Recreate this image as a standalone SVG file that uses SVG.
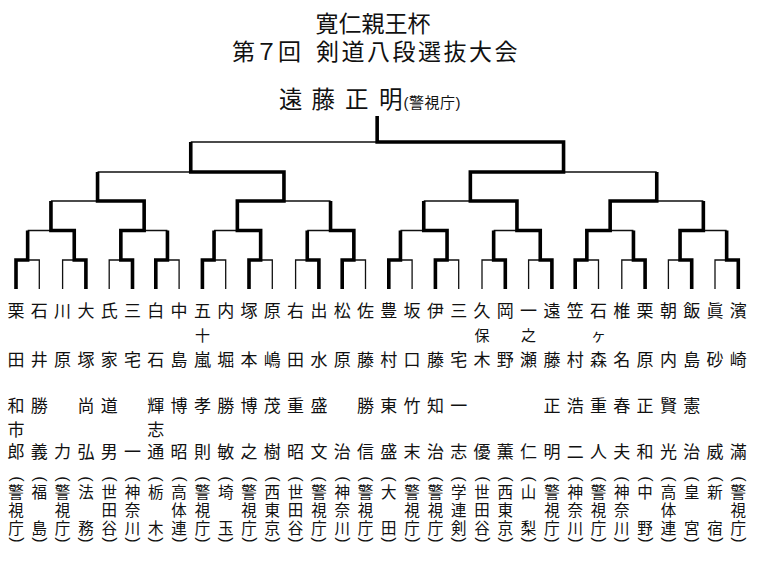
<svg xmlns="http://www.w3.org/2000/svg" width="760" height="562" viewBox="0 0 760 562">
<style>
text{font-family:"Liberation Sans","Noto Sans CJK JP","Noto Sans CJK SC",sans-serif;fill:#111}
.t{font-size:23px}
.c{font-size:23.5px;text-anchor:middle}
.cs{font-size:15px;letter-spacing:0.5px}
.s{font-size:17px;text-anchor:middle}
.m{font-size:15px;text-anchor:middle}
.f{font-size:15.5px;text-anchor:middle}
.pr{font-family:"Liberation Sans",sans-serif;font-size:16px;text-anchor:middle;dominant-baseline:central}
.thin{fill:none;stroke:#111;stroke-width:1.3}
.thick{fill:none;stroke:#000;stroke-width:3.6;stroke-linejoin:miter}
</style>
<rect width="760" height="562" fill="#fff"/>
<g id="title">
<text class="t" x="315.5" y="32">寛仁親王杯</text>
<text class="t" x="232" y="59.5">第７回</text>
<text class="t" x="316" y="59.5" letter-spacing="2.5">剣道八段選抜大会</text>
</g>
<g id="champion">
<text class="c" x="290.8" y="108">遠</text>
<text class="c" x="323.3" y="108">藤</text>
<text class="c" x="356.7" y="108">正</text>
<text class="c" x="390.8" y="108">明</text>
<text class="cs" x="403.5" y="107.5">(警視庁)</text>
</g>
<g id="connectors">
<path class="thin" d="M16,289V260H39.3V289M62.6,289V260H85.9V289M109.2,289V260H132.5V289M155.8,289V260H179.1V289M202.4,289V260H225.7V289M249,289V260H272.3V289M295.6,289V260H318.9V289M342.2,289V260H365.5V289M388.8,289V260H412.1V289M435.4,289V260H458.7V289M482,289V260H505.3V289M528.6,289V260H551.9V289M575.2,289V260H598.5V289M621.8,289V260H645.1V289M668.4,289V260H691.7V289M715,289V260H738.3V289
M27.65,230.5H74.25M120.85,230.5H167.45M214.05,230.5H260.65M307.25,230.5H353.85M400.45,230.5H447.05M493.65,230.5H540.25M586.85,230.5H633.45M680.05,230.5H726.65
M50.95,230.5V201M144.15,230.5V201M237.35,230.5V201M330.55,230.5V201M423.75,230.5V201M516.95,230.5V201M610.15,230.5V201M703.35,230.5V201
M50.95,201H144.15M237.35,201H330.55M423.75,201H516.95M610.15,201H703.35
M97.55,201V172M283.95,201V172M470.35,201V172M656.75,201V172
M97.55,172H283.95M470.35,172H656.75
M190.75,172V142M563.55,172V142M190.75,142H563.55"/>
<path class="thick" d="M16,289V260H27.65V230.5"/>
<path class="thick" d="M85.9,289V260H74.25V230.5H50.95V201"/>
<path class="thick" d="M132.5,289V260H120.85V230.5H144.15V201H97.55V172"/>
<path class="thick" d="M155.8,289V260H167.45V230.5"/>
<path class="thick" d="M202.4,289V260H214.05V230.5"/>
<path class="thick" d="M249,289V260H260.65V230.5H237.35V201H283.95V172H190.75V142"/>
<path class="thick" d="M318.9,289V260H307.25V230.5"/>
<path class="thick" d="M342.2,289V260H353.85V230.5H330.55V201"/>
<path class="thick" d="M388.8,289V260H400.45V230.5"/>
<path class="thick" d="M435.4,289V260H447.05V230.5H423.75V201"/>
<path class="thick" d="M505.3,289V260H493.65V230.5"/>
<path class="thick" d="M551.9,289V260H540.25V230.5H516.95V201H470.35V172H563.55V142H377.15V116"/>
<path class="thick" d="M575.2,289V260H586.85V230.5H610.15V201H656.75V172"/>
<path class="thick" d="M645.1,289V260H633.45V230.5"/>
<path class="thick" d="M691.7,289V260H680.05V230.5H703.35V201"/>
<path class="thick" d="M738.3,289V260H726.65V230.5"/>
</g>
<defs>
<g id="po"><text class="pr" transform="translate(1 479) rotate(90)">(</text></g>
<g id="pc"><text class="pr" transform="translate(1 540) rotate(90)">)</text></g>
</defs>
<g id="p00" transform="translate(16 0)"><text class="s" y="317.3">栗</text><text class="s" y="365.5">田</text><text class="s" y="412">和</text><text class="s" y="435.5">市</text><text class="s" y="458">郎</text><use href="#po"/><text class="f" y="498.4">警</text><text class="f" y="515.9">視</text><text class="f" y="533.9">庁</text><use href="#pc"/></g>
<g id="p01" transform="translate(39.3 0)"><text class="s" y="317.3">石</text><text class="s" y="365.5">井</text><text class="s" y="412">勝</text><text class="s" y="458">義</text><use href="#po"/><text class="f" y="498.4">福</text><text class="f" y="533.9">島</text><use href="#pc"/></g>
<g id="p02" transform="translate(62.6 0)"><text class="s" y="317.3">川</text><text class="s" y="365.5">原</text><text class="s" y="458">力</text><use href="#po"/><text class="f" y="498.4">警</text><text class="f" y="515.9">視</text><text class="f" y="533.9">庁</text><use href="#pc"/></g>
<g id="p03" transform="translate(85.9 0)"><text class="s" y="317.3">大</text><text class="s" y="365.5">塚</text><text class="s" y="412">尚</text><text class="s" y="458">弘</text><use href="#po"/><text class="f" y="498.4">法</text><text class="f" y="533.9">務</text><use href="#pc"/></g>
<g id="p04" transform="translate(109.2 0)"><text class="s" y="317.3">氏</text><text class="s" y="365.5">家</text><text class="s" y="412">道</text><text class="s" y="458">男</text><use href="#po"/><text class="f" y="498.4">世</text><text class="f" y="515.9">田</text><text class="f" y="533.9">谷</text><use href="#pc"/></g>
<g id="p05" transform="translate(132.5 0)"><text class="s" y="317.3">三</text><text class="s" y="365.5">宅</text><text class="s" y="458">一</text><use href="#po"/><text class="f" y="498.4">神</text><text class="f" y="515.9">奈</text><text class="f" y="533.9">川</text><use href="#pc"/></g>
<g id="p06" transform="translate(155.8 0)"><text class="s" y="317.3">白</text><text class="s" y="365.5">石</text><text class="s" y="412">輝</text><text class="s" y="435.5">志</text><text class="s" y="458">通</text><use href="#po"/><text class="f" y="498.4">栃</text><text class="f" y="533.9">木</text><use href="#pc"/></g>
<g id="p07" transform="translate(179.1 0)"><text class="s" y="317.3">中</text><text class="s" y="365.5">島</text><text class="s" y="412">博</text><text class="s" y="458">昭</text><use href="#po"/><text class="f" y="498.4">高</text><text class="f" y="515.9">体</text><text class="f" y="533.9">連</text><use href="#pc"/></g>
<g id="p08" transform="translate(202.4 0)"><text class="s" y="317.3">五</text><text class="m" y="341">十</text><text class="s" y="365.5">嵐</text><text class="s" y="412">孝</text><text class="s" y="458">則</text><use href="#po"/><text class="f" y="498.4">警</text><text class="f" y="515.9">視</text><text class="f" y="533.9">庁</text><use href="#pc"/></g>
<g id="p09" transform="translate(225.7 0)"><text class="s" y="317.3">内</text><text class="s" y="365.5">堀</text><text class="s" y="412">勝</text><text class="s" y="458">敏</text><use href="#po"/><text class="f" y="498.4">埼</text><text class="f" y="533.9">玉</text><use href="#pc"/></g>
<g id="p10" transform="translate(249 0)"><text class="s" y="317.3">塚</text><text class="s" y="365.5">本</text><text class="s" y="412">博</text><text class="s" y="458">之</text><use href="#po"/><text class="f" y="498.4">警</text><text class="f" y="515.9">視</text><text class="f" y="533.9">庁</text><use href="#pc"/></g>
<g id="p11" transform="translate(272.3 0)"><text class="s" y="317.3">原</text><text class="s" y="365.5">嶋</text><text class="s" y="412">茂</text><text class="s" y="458">樹</text><use href="#po"/><text class="f" y="498.4">西</text><text class="f" y="515.9">東</text><text class="f" y="533.9">京</text><use href="#pc"/></g>
<g id="p12" transform="translate(295.6 0)"><text class="s" y="317.3">右</text><text class="s" y="365.5">田</text><text class="s" y="412">重</text><text class="s" y="458">昭</text><use href="#po"/><text class="f" y="498.4">世</text><text class="f" y="515.9">田</text><text class="f" y="533.9">谷</text><use href="#pc"/></g>
<g id="p13" transform="translate(318.9 0)"><text class="s" y="317.3">出</text><text class="s" y="365.5">水</text><text class="s" y="412">盛</text><text class="s" y="458">文</text><use href="#po"/><text class="f" y="498.4">警</text><text class="f" y="515.9">視</text><text class="f" y="533.9">庁</text><use href="#pc"/></g>
<g id="p14" transform="translate(342.2 0)"><text class="s" y="317.3">松</text><text class="s" y="365.5">原</text><text class="s" y="458">治</text><use href="#po"/><text class="f" y="498.4">神</text><text class="f" y="515.9">奈</text><text class="f" y="533.9">川</text><use href="#pc"/></g>
<g id="p15" transform="translate(365.5 0)"><text class="s" y="317.3">佐</text><text class="s" y="365.5">藤</text><text class="s" y="412">勝</text><text class="s" y="458">信</text><use href="#po"/><text class="f" y="498.4">警</text><text class="f" y="515.9">視</text><text class="f" y="533.9">庁</text><use href="#pc"/></g>
<g id="p16" transform="translate(388.8 0)"><text class="s" y="317.3">豊</text><text class="s" y="365.5">村</text><text class="s" y="412">東</text><text class="s" y="458">盛</text><use href="#po"/><text class="f" y="498.4">大</text><text class="f" y="533.9">田</text><use href="#pc"/></g>
<g id="p17" transform="translate(412.1 0)"><text class="s" y="317.3">坂</text><text class="s" y="365.5">口</text><text class="s" y="412">竹</text><text class="s" y="458">末</text><use href="#po"/><text class="f" y="498.4">警</text><text class="f" y="515.9">視</text><text class="f" y="533.9">庁</text><use href="#pc"/></g>
<g id="p18" transform="translate(435.4 0)"><text class="s" y="317.3">伊</text><text class="s" y="365.5">藤</text><text class="s" y="412">知</text><text class="s" y="458">治</text><use href="#po"/><text class="f" y="498.4">警</text><text class="f" y="515.9">視</text><text class="f" y="533.9">庁</text><use href="#pc"/></g>
<g id="p19" transform="translate(458.7 0)"><text class="s" y="317.3">三</text><text class="s" y="365.5">宅</text><text class="s" y="412">一</text><text class="s" y="458">志</text><use href="#po"/><text class="f" y="498.4">学</text><text class="f" y="515.9">連</text><text class="f" y="533.9">剣</text><use href="#pc"/></g>
<g id="p20" transform="translate(482 0)"><text class="s" y="317.3">久</text><text class="m" y="341">保</text><text class="s" y="365.5">木</text><text class="s" y="458">優</text><use href="#po"/><text class="f" y="498.4">世</text><text class="f" y="515.9">田</text><text class="f" y="533.9">谷</text><use href="#pc"/></g>
<g id="p21" transform="translate(505.3 0)"><text class="s" y="317.3">岡</text><text class="s" y="365.5">野</text><text class="s" y="458">薫</text><use href="#po"/><text class="f" y="498.4">西</text><text class="f" y="515.9">東</text><text class="f" y="533.9">京</text><use href="#pc"/></g>
<g id="p22" transform="translate(528.6 0)"><text class="s" y="317.3">一</text><text class="m" y="341">之</text><text class="s" y="365.5">瀬</text><text class="s" y="458">仁</text><use href="#po"/><text class="f" y="498.4">山</text><text class="f" y="533.9">梨</text><use href="#pc"/></g>
<g id="p23" transform="translate(551.9 0)"><text class="s" y="317.3">遠</text><text class="s" y="365.5">藤</text><text class="s" y="412">正</text><text class="s" y="458">明</text><use href="#po"/><text class="f" y="498.4">警</text><text class="f" y="515.9">視</text><text class="f" y="533.9">庁</text><use href="#pc"/></g>
<g id="p24" transform="translate(575.2 0)"><text class="s" y="317.3">笠</text><text class="s" y="365.5">村</text><text class="s" y="412">浩</text><text class="s" y="458">二</text><use href="#po"/><text class="f" y="498.4">神</text><text class="f" y="515.9">奈</text><text class="f" y="533.9">川</text><use href="#pc"/></g>
<g id="p25" transform="translate(598.5 0)"><text class="s" y="317.3">石</text><text class="m" y="341">ヶ</text><text class="s" y="365.5">森</text><text class="s" y="412">重</text><text class="s" y="458">人</text><use href="#po"/><text class="f" y="498.4">警</text><text class="f" y="515.9">視</text><text class="f" y="533.9">庁</text><use href="#pc"/></g>
<g id="p26" transform="translate(621.8 0)"><text class="s" y="317.3">椎</text><text class="s" y="365.5">名</text><text class="s" y="412">春</text><text class="s" y="458">夫</text><use href="#po"/><text class="f" y="498.4">神</text><text class="f" y="515.9">奈</text><text class="f" y="533.9">川</text><use href="#pc"/></g>
<g id="p27" transform="translate(645.1 0)"><text class="s" y="317.3">栗</text><text class="s" y="365.5">原</text><text class="s" y="412">正</text><text class="s" y="458">和</text><use href="#po"/><text class="f" y="498.4">中</text><text class="f" y="533.9">野</text><use href="#pc"/></g>
<g id="p28" transform="translate(668.4 0)"><text class="s" y="317.3">朝</text><text class="s" y="365.5">内</text><text class="s" y="412">賢</text><text class="s" y="458">光</text><use href="#po"/><text class="f" y="498.4">高</text><text class="f" y="515.9">体</text><text class="f" y="533.9">連</text><use href="#pc"/></g>
<g id="p29" transform="translate(691.7 0)"><text class="s" y="317.3">飯</text><text class="s" y="365.5">島</text><text class="s" y="412">憲</text><text class="s" y="458">治</text><use href="#po"/><text class="f" y="498.4">皇</text><text class="f" y="533.9">宮</text><use href="#pc"/></g>
<g id="p30" transform="translate(715 0)"><text class="s" y="317.3">眞</text><text class="s" y="365.5">砂</text><text class="s" y="458">威</text><use href="#po"/><text class="f" y="498.4">新</text><text class="f" y="533.9">宿</text><use href="#pc"/></g>
<g id="p31" transform="translate(738.3 0)"><text class="s" y="317.3">濱</text><text class="s" y="365.5">崎</text><text class="s" y="458">滿</text><use href="#po"/><text class="f" y="498.4">警</text><text class="f" y="515.9">視</text><text class="f" y="533.9">庁</text><use href="#pc"/></g>
</svg>
